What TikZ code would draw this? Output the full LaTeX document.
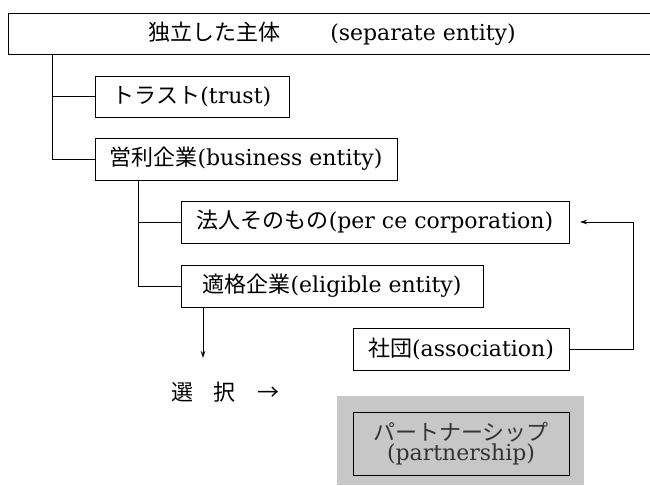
\documentclass[tikz,border=0pt]{standalone}
\usepackage{fontspec}
\setmainfont{DejaVu Serif}
\newfontfamily\jpfont{Noto Sans CJK JP}
\usetikzlibrary{arrows.meta}
\newcommand\JP[1]{{\jpfont #1}}
\begin{document}
\begin{tikzpicture}[x=1pt,y=-1pt,
  font=\fontsize{22}{26}\selectfont,
  box/.style={draw, line width=0.9pt, inner sep=0pt, minimum height=42pt},
  conn/.style={line width=0.9pt},
  tip/.style={-{Stealth[length=7pt,width=4.5pt]}},
  shade/.style={fill=black!22}]
\clip (0,0) rectangle (650,486);
\fill[white] (0,0) rectangle (650,486);

\node[box, minimum width=648pt, minimum height=41pt] (top) at (332,33.5)
  {\JP{独立した主体}\hspace{50pt}(separate entity)\hspace{24pt}};
\node[box, minimum width=194pt, minimum height=41pt] (trust) at (192,96.5) {\JP{トラスト}(trust)\hspace{8pt}};
\node[box, minimum width=302pt] (biz) at (246,159) {\JP{営利企業}(business entity)\hspace{6pt}};
\node[box, minimum width=388pt] (perce) at (375,222) {\JP{法人そのもの}(per ce corporation)\hspace{6pt}};
\node[box, minimum width=302pt] (elig) at (332,286) {\JP{適格企業}(eligible entity)\hspace{6pt}};
\node[box, minimum width=216pt] (assoc) at (461,349) {\JP{社団}(association)};

\node[shade, minimum width=247pt, minimum height=89pt, inner sep=0pt] (shadebg) at (460.5,440.5) {};
\node[box, shade, minimum width=216pt, minimum height=63pt, align=center, text=black!80,
  font=\fontsize{22}{20}\selectfont] (part) at (461,443.5)
  {\JP{パートナーシップ}\\(partnership)};

\node[inner sep=0pt] (sel) at (225,392) {\JP{選\hspace{21pt}択\hspace{21pt}→}};

\coordinate (j1) at (52,54);
\draw[conn] (j1) |- (biz.west);
\draw[conn] (j1 |- trust.west) -- (trust.west);
\coordinate (j2) at (138,180);
\draw[conn] (j2) |- (elig.west);
\draw[conn] (j2 |- perce.west) -- (perce.west);
\coordinate (down) at (203,358);
\draw[conn,tip] (elig.south -| down) -- (down);
\coordinate (loop) at (633,349);
\coordinate (ret) at (580,222);
\draw[conn,tip] (assoc.east) -- (loop) |- (ret);
\end{tikzpicture}
\end{document}
